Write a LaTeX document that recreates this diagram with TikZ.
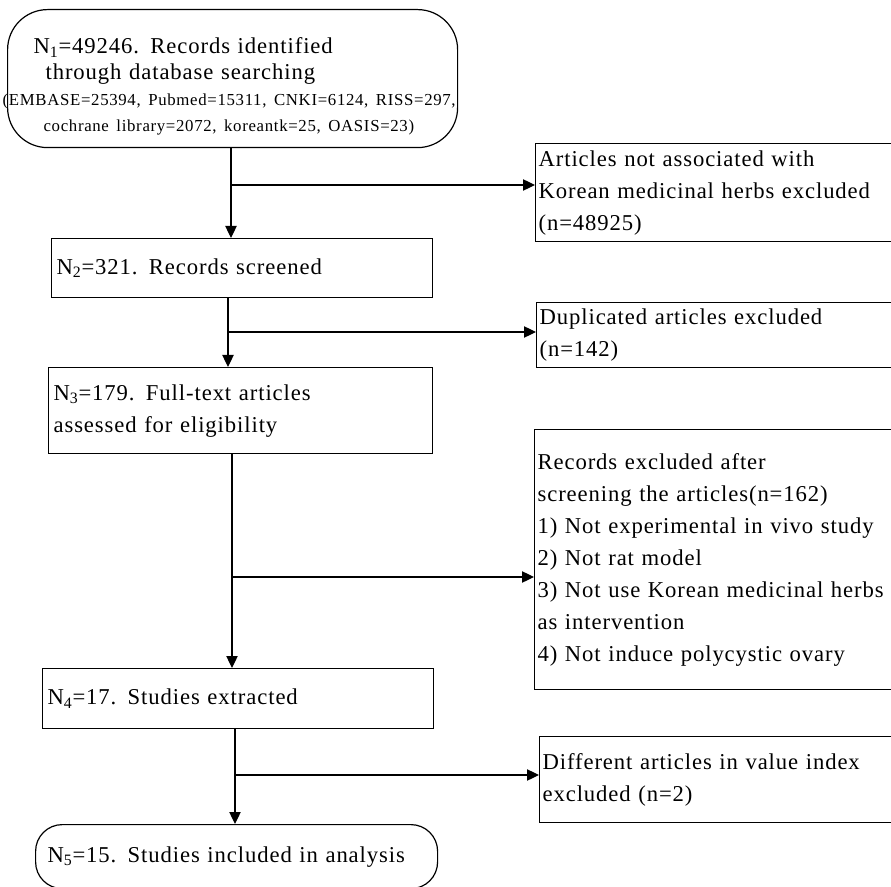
\documentclass[tikz,border=0pt]{standalone}
\usepackage{fontspec}
\setmainfont{Liberation Serif}
\newfontfamily\boxfont[LetterSpace=4]{Liberation Serif}
\usetikzlibrary{arrows.meta}
\newcommand{\boxsize}{\fontsize{17pt}{24pt}\boxfont}
\newcommand{\topsize}{\fontsize{17pt}{19.5pt}\boxfont}
\newcommand{\dbsize}{\fontsize{12.6pt}{19.5pt}\selectfont}

\begin{document}
\begin{tikzpicture}[
  x=0.75pt, y=-0.75pt,
  flowbox/.style = {draw, line width=0.9pt, anchor=north west, align=left,
                    inner ysep=0pt, inner xsep=3.75pt, font=\boxsize},
  exbox/.style   = {flowbox, text width=273pt, inner xsep=2.25pt},
  endbox/.style  = {flowbox, rounded corners=#1},
  link/.style    = {line width=0.9pt},
  arr/.style     = {link, -{Triangle[length=9pt,width=8.5pt]}}
]
\useasboundingbox (0,0) rectangle (891,887);
\clip (0,0) rectangle (891,887);

% main column
\node[endbox=30pt, text width=337.5pt, inner xsep=0pt, minimum height=103.5pt,
      font=\topsize] (n1) at (7,9)
  {\rule{0pt}{24pt}\hspace*{19.5pt}N\textsubscript{1}=49246. Records identified\\
   \hspace*{28.5pt}through database searching\\
   \hspace*{-3.75pt}\mbox{\dbsize (EMBASE=25394, Pubmed=15311, CNKI=6124, RISS=297,}\\
   \hspace*{27pt}{\dbsize cochrane library=2072, koreantk=25, OASIS=23)}};
\node[flowbox, text width=278.25pt, minimum height=44.25pt] (n2) at (51,238)
  {N\textsubscript{2}=321. Records screened};
\node[flowbox, text width=280.5pt, minimum height=64.5pt] (n3) at (48,367)
  {N\textsubscript{3}=179. Full-text articles\\assessed for eligibility};
\node[flowbox, text width=285.75pt, minimum height=45pt] (n4) at (42,668)
  {N\textsubscript{4}=17. Studies extracted};
\node[endbox=20pt, text width=283.5pt, inner xsep=9pt, minimum height=48pt] (n5) at (35,824)
  {N\textsubscript{5}=15. Studies included in analysis};

% excluded records (right column)
\node[exbox, minimum height=73.5pt] (e1) at (535,143)
  {Articles not associated with\\Korean medicinal herbs excluded\\(n=48925)};
\node[exbox, minimum height=48.75pt] (e2) at (536,302)
  {Duplicated articles excluded\\(n=142)};
\node[exbox, minimum height=195pt] (e3) at (534,429)
  {Records excluded after\\screening the articles(n=162)\\1) Not experimental in vivo study\\
   2) Not rat model\\3) Not use Korean medicinal herbs\\as intervention\\
   4) Not induce polycystic ovary};
\node[exbox, minimum height=64.5pt] (e4) at (539,736)
  {Different articles in value index\\excluded (n=2)};

% junctions
\coordinate (j1) at (231,185);
\coordinate (j2) at (228,332);
\coordinate (j3) at (232,577);
\coordinate (j4) at (235,775);

\draw[arr] (n1.south -| j1) -- (n2.north -| j1);
\draw[arr] (j1) -- (j1 -| e1.west);
\draw[arr] (n2.south -| j2) -- (n3.north -| j2);
\draw[arr] (j2) -- (j2 -| e2.west);
\draw[arr] (n3.south -| j3) -- (n4.north -| j3);
\draw[arr] (j3) -- (j3 -| e3.west);
\draw[arr] (n4.south -| j4) -- (n5.north -| j4);
\draw[arr] (j4) -- (j4 -| e4.west);

\end{tikzpicture}
\end{document}
